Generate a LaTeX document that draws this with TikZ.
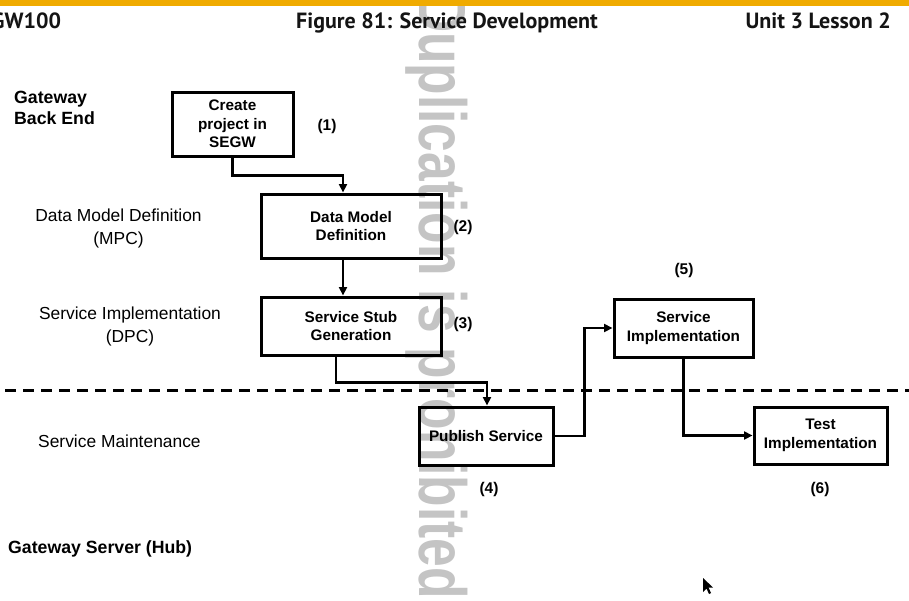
\documentclass[tikz,border=0pt]{standalone}
\usepackage{fontspec}
\setmainfont{Liberation Sans}
\newfontfamily\hdrfont{PT Sans}
\usetikzlibrary{arrows.meta,calc}
\definecolor{sapgold}{HTML}{F0AB00}
\definecolor{wmgray}{gray}{0.77}
\definecolor{hdrtext}{HTML}{141414}
\begin{document}
\begin{tikzpicture}[x=1pt,y=-1pt,
  box/.style={draw=black, line width=3pt, align=center, inner sep=2pt,
    font=\bfseries\fontsize{15.3}{18.5}\selectfont},
  arr/.style={line width=2.6pt, -{Triangle[length=8.5pt,width=8pt]}},
  num/.style={font=\bfseries\fontsize{15.5}{18}\selectfont, inner sep=0pt},
  lbl/.style={font=\fontsize{17.4}{23}\selectfont, align=center, inner sep=0pt},
  blbl/.style={font=\bfseries\fontsize{17.7}{21}\selectfont, align=left, inner sep=0pt},
  hdr/.style={font=\hdrfont\bfseries\fontsize{22}{26}\selectfont, text=hdrtext, inner sep=0pt}]
\useasboundingbox (0,0) rectangle (909,600);
\fill[white] (0,0) rectangle (909,600);
% watermark
\node[rotate=-90, anchor=base west, inner sep=0pt, text=wmgray] (wm) at (419,-5)
  {\scalebox{1.01}[1.31]{\fontsize{51}{51}\selectfont\bfseries Duplication is prohibited}};
% top bar and header
\fill[sapgold] (0,0) rectangle (909,6);
\node[hdr, anchor=base west] (hleft) at (-9,28) {GW100};
\node[hdr, anchor=base] (htitle) at (447,28) {Figure 81: Service Development};
\node[hdr, anchor=base east] (hright) at (891,28) {Unit 3 Lesson 2};
% left labels
\node[blbl, anchor=west] (gbe) at (14,108) {Gateway\\Back End};
\node[lbl] (ldm) at (118.5,228) {Data Model Definition\\(MPC)};
\node[lbl] (lsi) at (130,326) {Service Implementation\\(DPC)};
\node[lbl, anchor=west] (lsm) at (38,441) {Service Maintenance};
\node[blbl, anchor=west] (gsh) at (8,549) {Gateway Server (Hub)};
% boxes
\node[box, minimum width=121pt, minimum height=64pt] (b1) at (232.5,124) {Create\\project in\\SEGW};
\node[box, minimum width=180pt, minimum height=64pt] (b2) at (351,226) {Data Model\\Definition};
\node[box, minimum width=180pt, minimum height=58pt] (b3) at (351,326) {Service Stub\\Generation};
\node[box, minimum width=134pt, minimum height=58pt] (b4) at (486,436) {Publish Service};
\node[box, minimum width=139pt, minimum height=58pt] (b5) at (683.5,328) {Service\\Implementation};
\node[box, minimum width=133pt, minimum height=57pt] (b6) at (820.5,435.5) {Test\\Implementation};
% numbers
\node[num] (n1) at (327,126) {(1)};
\node[num] (n2) at (463,227) {(2)};
\node[num] (n3) at (463,324) {(3)};
\node[num] (n4) at (489,489) {(4)};
\node[num] (n5) at (684,270) {(5)};
\node[num] (n6) at (820,489) {(6)};
% dashed separator
\coordinate (dl) at (0,390);
\coordinate (dr) at (909,390);
\draw[line width=3pt, dash pattern=on 11pt off 7pt, dash phase=-5pt] (dl) -- (dr);
% connectors
\draw[arr] (b1.south) -- ++(0,18) -| ([xshift=-8pt]b2.north);
\draw[arr] ([xshift=-8pt]b2.south) -- ([xshift=-8pt]b3.north);
\draw[arr] ([xshift=-15pt]b3.south) -- ++(0,26) -| ([xshift=1pt]b4.north);
\draw[arr] (b4.east) -- ++(30,0) |- (b5.west);
\draw[arr] (b5.south) |- (b6.west);
% mouse pointer
\fill[black] (703,578) -- (703,592) -- (706.5,588.5) -- (709,594) -- (711,593) -- (708.5,587.5) -- (713,587.5) -- cycle;
\end{tikzpicture}
\end{document}
